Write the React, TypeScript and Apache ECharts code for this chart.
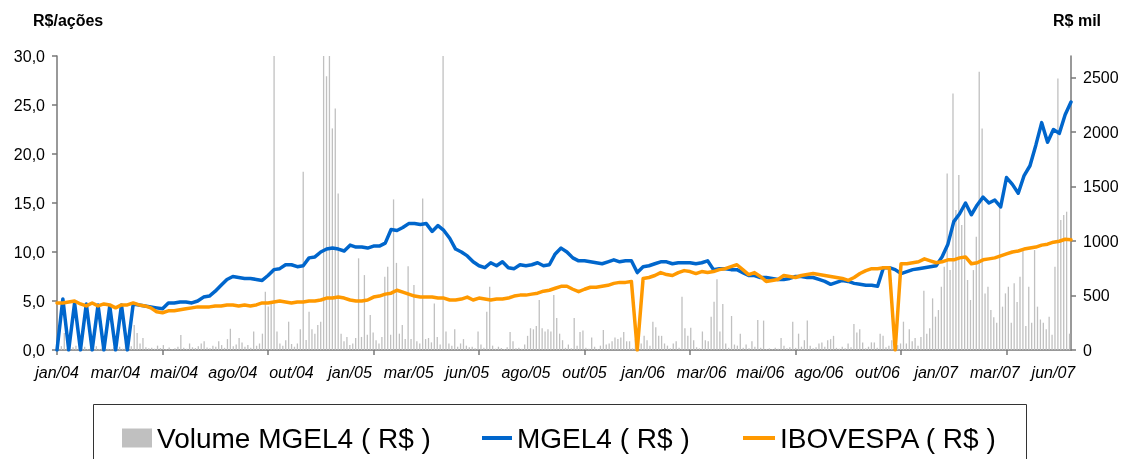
import React, { useEffect, useRef } from 'react';
import * as echarts from 'echarts';

const dateLabels = ['jan/04', 'mar/04', 'mai/04', 'ago/04', 'out/04', 'jan/05', 'mar/05', 'jun/05', 'ago/05', 'out/05', 'jan/06', 'mar/06', 'mai/06', 'ago/06', 'out/06', 'jan/07', 'mar/07', 'jun/07'];

const leftTitle = 'R$/ações';
const rightTitle = 'R$ mil';
const rightTicks = [0, 500, 1000, 1500, 2000, 2500];

const mgel4 = [
  0, 5.2, 0, 4.8, 0, 4.7, 0, 4.6, 0, 4.5,
  0, 4.6, 0, 4.7, 4.6, 4.5, 4.4, 4.3, 4.2, 4.8,
  4.8, 4.9, 4.9, 4.8, 5.0, 5.4, 5.5, 6.0, 6.6, 7.2,
  7.5, 7.4, 7.3, 7.3, 7.2, 7.1, 7.6, 8.2, 8.3, 8.7,
  8.7, 8.5, 8.6, 9.4, 9.5, 10.0, 10.3, 10.4, 10.3, 10.1,
  10.7, 10.5, 10.5, 10.4, 10.6, 10.6, 10.9, 12.3, 12.2, 12.5,
  12.9, 12.9, 12.8, 12.9, 12.1, 12.7, 12.2, 11.4, 10.3, 10.0,
  9.6, 9.0, 8.6, 8.4, 8.9, 8.6, 9.0, 8.4, 8.3, 8.7,
  8.6, 8.7, 8.9, 8.6, 8.7, 9.8, 10.4, 10.0, 9.4, 9.1,
  9.1, 9.0, 8.9, 8.8, 9.0, 9.2, 9.0, 9.1, 9.1, 7.9,
  8.5, 8.6, 8.8, 9.0, 9.0, 8.8, 8.9, 8.9, 8.9, 8.8,
  8.9, 9.1, 8.2, 8.3, 8.3, 8.2, 8.2, 7.9, 7.6, 7.6,
  7.4, 7.4, 7.3, 7.2, 7.2, 7.3, 7.5, 7.5, 7.4, 7.4,
  7.2, 7.0, 6.7, 6.9, 7.1, 7.0, 6.8, 6.7, 6.6, 6.6,
  6.5, 8.4, 8.4, 8.2, 7.8, 8.0, 8.2, 8.3, 8.4, 8.5,
  8.6, 9.5, 10.8, 13.1, 13.9, 15.0, 13.8, 14.8, 15.6, 15.0,
  15.3, 14.6, 17.6, 16.9, 16.0, 17.8, 18.8, 20.9, 23.2, 21.2,
  22.5, 22.1, 24.0, 25.3,
];

const ibovespa = [
  4.8, 4.8, 4.9, 5.0, 4.7, 4.5, 4.8, 4.5, 4.7, 4.6,
  4.3, 4.6, 4.6, 4.8, 4.6, 4.5, 4.3, 3.9, 3.8, 4.0,
  4.0, 4.1, 4.2, 4.3, 4.4, 4.4, 4.4, 4.5, 4.5, 4.6,
  4.6, 4.5, 4.6, 4.5, 4.6, 4.8, 4.8, 4.9, 5.0, 4.9,
  4.8, 4.9, 4.9, 5.0, 5.0, 5.1, 5.3, 5.3, 5.4, 5.3,
  5.1, 5.0, 5.0, 5.1, 5.4, 5.5, 5.7, 5.8, 6.1, 5.9,
  5.7, 5.5, 5.4, 5.4, 5.4, 5.3, 5.3, 5.1, 5.1, 5.2,
  5.4, 5.1, 5.3, 5.2, 5.1, 5.2, 5.2, 5.3, 5.5, 5.6,
  5.6, 5.7, 5.8, 6.0, 6.1, 6.3, 6.5, 6.5, 6.2, 5.95,
  6.2, 6.4, 6.4, 6.5, 6.6, 6.8, 6.9, 6.9, 7.0, 0,
  7.3, 7.4, 7.6, 7.9, 7.7, 7.6, 7.9, 8.1, 8.0, 7.8,
  8.0, 7.9, 8.0, 8.2, 8.3, 8.5, 8.7, 8.2, 7.7, 7.9,
  7.5, 7.0, 7.1, 7.2, 7.6, 7.5, 7.4, 7.6, 7.7, 7.8,
  7.7, 7.6, 7.5, 7.4, 7.3, 7.1, 7.4, 7.8, 8.1, 8.3,
  8.3, 8.4, 8.4, 0, 8.8, 8.8, 8.9, 9.0, 9.3, 9.1,
  8.9, 9.0, 9.2, 9.2, 9.4, 9.5, 8.8, 8.9, 9.2, 9.3,
  9.4, 9.6, 9.8, 10.0, 10.1, 10.3, 10.4, 10.5, 10.7, 10.8,
  11.0, 11.1, 11.3, 11.25,
];

const volume = [
  20, 35, 155, 15, 10, 25, 40, 12, 18, 30,
  8, 22, 15, 35, 10, 20, 28, 12, 9, 25,
  16, 30, 12, 76, 20, 35, 230, 155, 60, 110,
  25, 15, 20, 12, 40, 18, 45, 10, 22, 8,
  15, 30, 137, 20, 12, 60, 25, 18, 35, 60,
  80, 22, 15, 40, 30, 80, 45, 20, 100, 195,
  35, 50, 110, 70, 30, 45, 20, 170, 40, 60,
  150, 535, 400, 430, 2700, 170, 60, 40, 90, 260,
  55, 30, 60, 190, 1637, 92, 352, 190, 150, 230,
  260, 2700, 2515, 2700, 2035, 2219, 1438, 150, 80, 120,
  45, 60, 110, 842, 120, 688, 140, 321, 160, 90,
  60, 120, 673, 765, 140, 1383, 800, 150, 230, 100,
  770, 100, 597, 80, 60, 1392, 100, 110, 70, 428,
  120, 50, 2700, 170, 60, 40, 190, 30, 60, 100,
  40, 25, 30, 15, 170, 50, 20, 352, 581, 40,
  12, 30, 18, 10, 25, 165, 80, 15, 20, 12,
  50, 130, 200, 190, 220, 459, 200, 170, 190, 170,
  505, 294, 150, 90, 20, 50, 15, 294, 40, 165,
  180, 20, 12, 115, 30, 10, 40, 184, 50, 60,
  80, 115, 100, 115, 165, 80, 80, 15, 100, 20,
  60, 130, 90, 40, 260, 210, 130, 130, 60, 40,
  15, 60, 80, 20, 490, 200, 130, 205, 90, 25,
  15, 170, 90, 80, 306, 444, 649, 170, 422, 60,
  20, 312, 50, 40, 150, 20, 50, 15, 80, 30,
  275, 20, 270, 10, 15, 8, 20, 12, 110, 40,
  15, 25, 260, 20, 150, 30, 90, 270, 40, 15,
  25, 60, 70, 30, 90, 100, 130, 20, 12, 30,
  15, 60, 25, 239, 160, 190, 70, 15, 30, 70,
  70, 20, 150, 130, 25, 40, 90, 30, 45, 60,
  260, 60, 190, 80, 110, 40, 120, 545, 150, 200,
  474, 306, 367, 581, 765, 1622, 734, 2356, 1285, 1607,
  1147, 1315, 643, 459, 734, 1040, 2555, 2035, 520, 581,
  367, 300, 250, 1347, 398, 520, 581, 250, 612, 440,
  673, 918, 220, 581, 250, 918, 398, 280, 250, 190,
  306, 140, 765, 2494, 1193, 1239, 1270, 150,
];

const seriesNames = ['Volume MGEL4 ( R$ )', 'MGEL4 ( R$ )', 'IBOVESPA ( R$ )'];

export default function App() {
  const ref = useRef<HTMLDivElement>(null);
  useEffect(() => {
    const chart = echarts.init(ref.current as HTMLDivElement, null, { renderer: 'svg' });
    const font = "'Liberation Sans', Arial, Helvetica, sans-serif";
    const axisColor = '#777777';
    const cats = mgel4.map((_, i) => 'p' + i);
    const volCats = volume.map((_, i) => 'v' + i);
    const legendText = { fontSize: 28, color: '#000', fontFamily: font };
    chart.setOption({
      animation: false,
      textStyle: { fontFamily: font },
      grid: { left: 57, right: 53, top: 56, bottom: 109, containLabel: false, outerBoundsMode: 'none' },
      xAxis: [
        {
          type: 'category',
          data: cats,
          boundaryGap: false,
          axisLine: { show: true, lineStyle: { color: axisColor, width: 1.5 } },
          axisTick: { show: true, interval: 17, length: 5, lineStyle: { color: axisColor, width: 1.5 } },
          axisLabel: {
            interval: 9,
            formatter: (_v: string, idx: number) => (idx % 10 === 0 ? dateLabels[idx / 10] ?? '' : ''),
            fontStyle: 'italic',
            fontSize: 16,
            color: '#000',
            margin: 14,
            fontFamily: font,
          },
          splitLine: { show: false },
        },
        {
          type: 'category',
          data: volCats,
          boundaryGap: true,
          show: false,
          position: 'bottom',
        },
      ],
      yAxis: [
        {
          type: 'value',
          min: 0,
          max: 30,
          interval: 5,
          position: 'left',
          axisLine: { show: true, lineStyle: { color: axisColor, width: 1.5 } },
          axisTick: { show: true, length: 5, lineStyle: { color: axisColor, width: 1.5 } },
          axisLabel: {
            formatter: (v: number) => v.toFixed(1).replace('.', ','),
            fontSize: 16,
            color: '#000',
            margin: 12,
            fontFamily: font,
          },
          splitLine: { show: false },
        },
        {
          type: 'value',
          min: 0,
          max: 2700,
          position: 'right',
          axisLine: { show: true, lineStyle: { color: axisColor, width: 1.5 } },
          axisTick: { show: true, length: 5, customValues: rightTicks, lineStyle: { color: axisColor, width: 1.5 } },
          axisLabel: {
            customValues: rightTicks,
            formatter: (v: number) => String(Math.round(v)),
            fontSize: 16,
            color: '#000',
            margin: 12,
            fontFamily: font,
          },
          splitLine: { show: false },
        },
      ],
      legend: [
        {
          data: [{ name: seriesNames[0], icon: 'rect' }],
          left: 122, top: 424, padding: 0,
          itemWidth: 30, itemHeight: 19,
          textStyle: legendText, selectedMode: false,
        },
        {
          data: [{ name: seriesNames[1], icon: 'rect' }],
          left: 482, top: 424, padding: 0,
          itemWidth: 30, itemHeight: 4,
          textStyle: legendText, selectedMode: false,
        },
        {
          data: [{ name: seriesNames[2], icon: 'rect' }],
          left: 743, top: 424, padding: 0,
          itemWidth: 32, itemHeight: 4,
          textStyle: legendText, selectedMode: false,
        },
      ],
      graphic: [
        {
          type: 'text', left: 33, top: 12,
          style: { text: leftTitle, font: `bold 16px ${font}`, fill: '#000' },
        },
        {
          type: 'text', left: 1053, top: 12,
          style: { text: rightTitle, font: `bold 16px ${font}`, fill: '#000' },
        },
        {
          type: 'rect', z: -1,
          shape: { x: 93.5, y: 404.5, width: 933, height: 80 },
          style: { fill: 'none', stroke: '#333', lineWidth: 1 },
        },
      ],
      series: [
        {
          name: seriesNames[0],
          type: 'bar',
          xAxisIndex: 1,
          yAxisIndex: 1,
          data: volume,
          barWidth: 1.3,
          itemStyle: { color: '#c0c0c0' },
          z: 1,
        },
        {
          name: seriesNames[1],
          type: 'line',
          xAxisIndex: 0,
          yAxisIndex: 0,
          data: mgel4,
          showSymbol: false,
          symbol: 'none',
          lineStyle: { color: '#0066cc', width: 3.5, cap: 'round', join: 'round' },
          itemStyle: { color: '#0066cc' },
          z: 2,
        },
        {
          name: seriesNames[2],
          type: 'line',
          xAxisIndex: 0,
          yAxisIndex: 0,
          data: ibovespa,
          showSymbol: false,
          symbol: 'none',
          lineStyle: { color: '#ff9900', width: 3.5, cap: 'round', join: 'round' },
          itemStyle: { color: '#ff9900' },
          z: 3,
        },
      ],
    });
    return () => chart.dispose();
  }, []);
  return <div ref={ref} style={{ position: 'fixed', left: 0, top: 0, width: 1124, height: 459 }} />;
}
